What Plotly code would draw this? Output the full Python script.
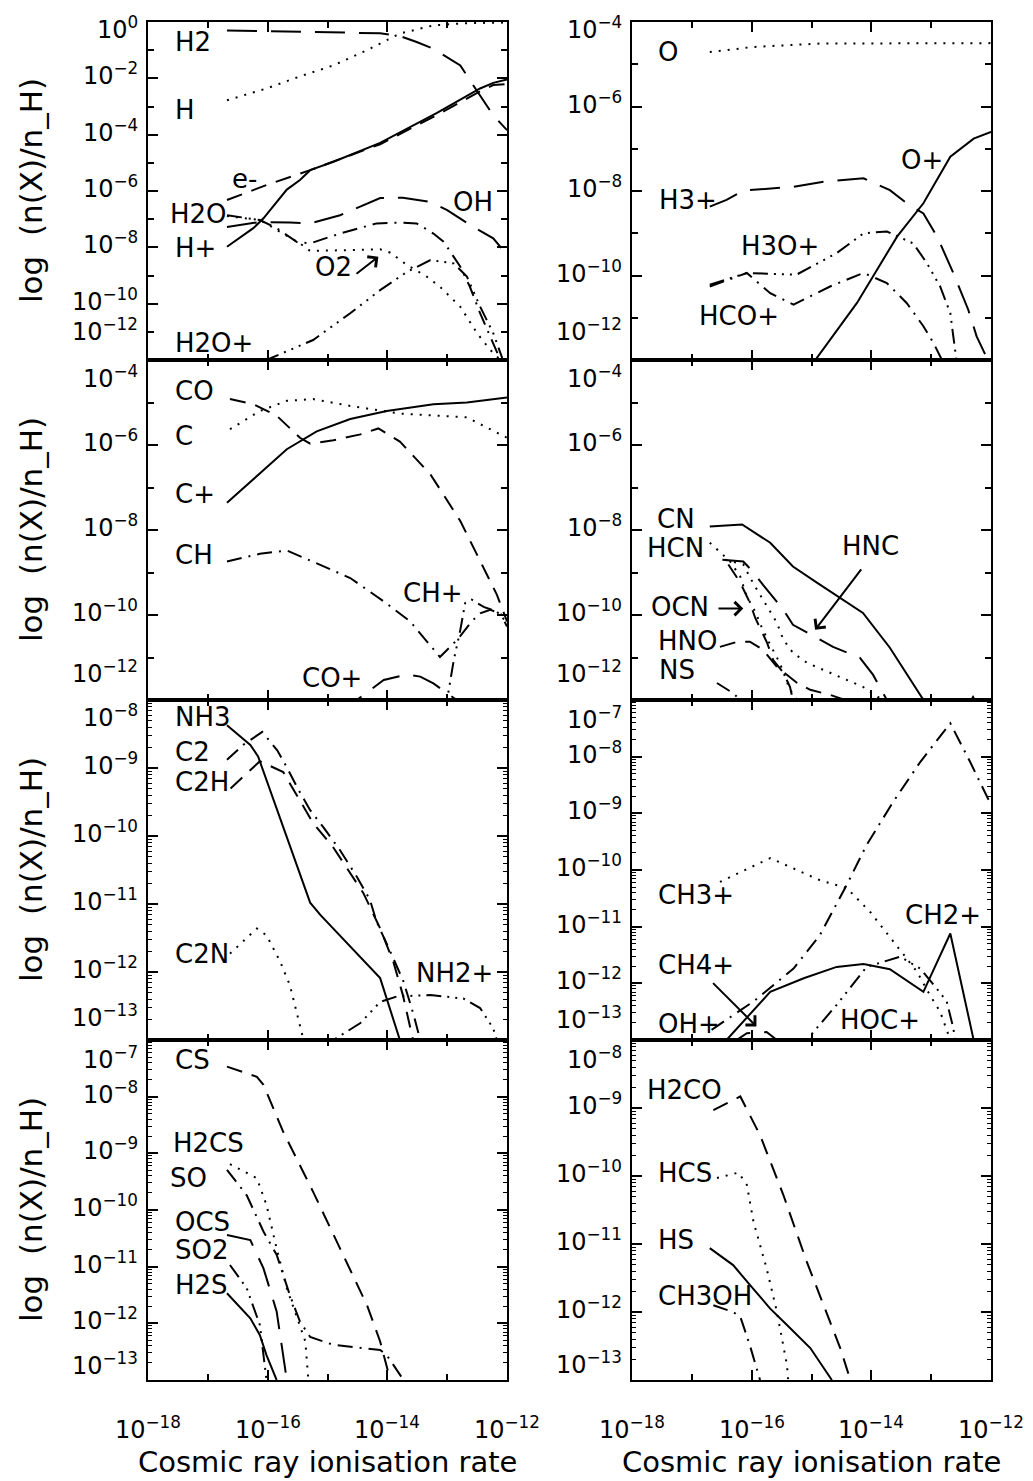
import numpy as np
import plotly.graph_objects as go

FONT = "DejaVu Sans"
W, H = 1033, 1481

# ---------------------------------------------------------------------------
# Data: log10(cosmic ray ionisation rate) and log10(n(X)/n_H)
# ---------------------------------------------------------------------------
# Panel 1 (row 1, left)
H2_lx = [-16.68, -15.46, -14.12, -13.79, -13.51, -13.23, -12.78, -12.62, -12.45, -12.23, -12.00]
H2_ly = [-0.30, -0.34, -0.40, -0.50, -0.71, -0.95, -1.54, -2.07, -2.60, -3.31, -3.84]
H_lx = [-16.68, -16.02, -15.46, -14.90, -14.34, -13.79, -13.23, -12.67, -12.00]
H_ly = [-2.78, -2.36, -1.93, -1.54, -1.00, -0.41, -0.12, -0.04, -0.02]
e_lx = [-16.68, -16.02, -15.29, -14.12, -13.17, -12.45, -12.23, -12.00]
e_ly = [-6.32, -5.79, -5.26, -4.34, -3.30, -2.46, -2.24, -2.20]
Hp_lx = [-16.68, -16.24, -16.07, -15.68, -15.46, -15.29, -14.90, -14.12, -13.17, -12.45, -12.23, -12.00]
Hp_ly = [-7.98, -7.32, -6.97, -5.95, -5.61, -5.26, -4.96, -4.29, -3.23, -2.36, -2.16, -2.04]
OH_lx = [-16.68, -16.13, -15.63, -15.29, -14.79, -14.12, -13.74, -13.28, -13.00, -12.57, -12.23, -12.00]
OH_ly = [-7.28, -7.10, -7.12, -7.15, -6.86, -6.25, -6.24, -6.39, -6.68, -7.27, -7.68, -8.27]
H2O_lx = [-16.68, -16.13, -15.85, -15.51, -15.29, -14.79, -14.18, -13.79, -13.51, -13.23, -13.06,
          -12.95, -12.78, -12.62, -12.45, -12.28, -12.11, -12.05]
H2O_ly = [-6.86, -7.03, -7.32, -7.81, -7.86, -7.51, -7.15, -7.12, -7.15, -7.51, -7.80,
          -8.16, -8.69, -9.40, -10.34, -11.17, -12.00, -12.40]
O2_lx = [-16.68, -16.13, -15.46, -15.29, -14.12, -13.95, -13.67, -13.34, -13.12, -12.78, -12.50,
         -12.28, -12.11, -12.05]
O2_ly = [-6.89, -7.03, -7.86, -8.13, -8.07, -8.19, -8.63, -9.04, -9.40, -10.11, -11.05,
         -11.64, -12.00, -12.40]
H2Op_lx = [-16.68, -16.02, -15.24, -14.62, -14.12, -13.67, -13.28, -12.89, -12.67, -12.45, -12.23, -12.06, -12.00]
H2Op_ly = [-12.90, -12.00, -11.29, -10.34, -9.52, -8.87, -8.45, -8.57, -9.04, -10.10, -11.05, -12.00, -12.40]

# Panel 2 (row 1, right)
O_lx = [-16.70, -15.97, -14.86, -12.00]
O_ly = [-4.71, -4.59, -4.51, -4.50]
H3p_lx = [-16.70, -16.42, -16.14, -15.30, -14.80, -14.13, -13.69, -13.41, -13.13, -12.90, -12.63,
          -12.38, -12.24, -12.07, -12.00]
H3p_ly = [-8.37, -8.21, -7.99, -7.90, -7.78, -7.70, -7.98, -8.29, -8.53, -9.08, -9.94,
          -10.81, -11.44, -11.95, -12.05]
Op_lx = [-15.40, -14.94, -14.24, -13.57, -13.13, -12.68, -12.29, -12.00]
Op_ly = [-12.90, -12.00, -10.65, -9.08, -8.29, -7.19, -6.76, -6.60]
H3Op_lx = [-16.70, -16.08, -15.25, -14.58, -14.13, -13.74, -13.30, -13.07, -12.85, -12.68, -12.63, -12.57, -12.55]
H3Op_ly = [-10.22, -9.94, -9.98, -9.47, -9.00, -8.96, -9.24, -9.71, -10.26, -10.89, -11.44, -12.00, -12.30]
HCOp_lx = [-16.70, -16.08, -15.69, -15.30, -14.69, -14.13, -13.74, -13.41, -13.13, -12.96, -12.82, -12.75]
HCOp_ly = [-10.26, -9.94, -10.42, -10.69, -10.26, -9.94, -10.18, -10.65, -11.20, -11.60, -12.00, -12.30]

# Panel 3 (row 2, left)
CO_lx = [-16.63, -16.24, -15.85, -15.46, -15.29, -14.90, -14.45, -14.15, -13.79, -13.28, -12.78,
         -12.34, -12.17, -12.00]
CO_ly = [-4.92, -5.04, -5.31, -5.83, -5.97, -5.89, -5.75, -5.61, -5.92, -6.69, -7.79,
         -9.05, -9.52, -10.15]
C_lx = [-16.63, -16.13, -15.68, -15.24, -14.62, -13.79, -12.67, -12.00]
C_ly = [-5.63, -5.20, -4.96, -4.92, -5.08, -5.26, -5.35, -5.83]
Cp_lx = [-16.68, -15.68, -15.18, -14.62, -14.01, -13.23, -12.67, -12.00]
Cp_ly = [-7.36, -6.10, -5.68, -5.39, -5.20, -5.04, -5.00, -4.88]
CH_lx = [-16.68, -16.13, -15.68, -15.18, -14.62, -14.06, -13.62, -13.12, -12.81, -12.59, -12.45,
         -12.28, -12.11, -12.00]
CH_ly = [-8.74, -8.56, -8.48, -8.78, -9.13, -9.68, -10.15, -10.99, -10.55, -10.15, -9.96,
         -9.88, -9.96, -10.27]
CHp_lx = [-13.06, -13.00, -12.89, -12.78, -12.70, -12.59, -12.39, -12.17, -12.00]
CHp_ly = [-12.50, -12.00, -11.06, -10.35, -9.72, -9.64, -9.81, -9.92, -10.18]
COp_lx = [-14.80, -14.51, -14.06, -13.67, -13.45, -13.23, -12.84, -12.60]
COp_ly = [-12.40, -12.00, -11.53, -11.40, -11.45, -11.61, -12.00, -12.30]

# Panel 4 (row 2, right)
CN_lx = [-16.70, -16.16, -15.69, -15.31, -14.91, -14.14, -13.69, -13.13, -12.90]
CN_ly = [-7.92, -7.87, -8.30, -8.86, -9.24, -9.95, -10.77, -12.00, -12.50]
HCN_lx = [-16.70, -16.36, -16.19, -16.08, -15.94, -15.83, -15.69, -15.53, -15.36, -15.24]
HCN_ly = [-8.30, -8.74, -9.10, -9.57, -9.92, -10.30, -10.70, -11.13, -11.76, -12.00]
DOT2_lx = [-16.44, -16.14, -15.98, -15.81, -15.69, -15.58, -15.47, -15.31, -15.07, -14.81, -14.47,
           -14.14, -13.89, -13.77]
DOT2_ly = [-8.70, -8.81, -9.24, -9.64, -9.95, -10.18, -10.58, -10.89, -11.13, -11.29, -11.48,
           -11.69, -11.93, -12.00]
HNC_lx = [-16.49, -16.14, -15.98, -15.81, -15.47, -15.31, -14.91, -14.64, -14.19, -13.97, -13.74]
HNC_ly = [-8.70, -8.74, -8.98, -9.29, -9.88, -10.23, -10.54, -10.75, -11.01, -11.41, -12.00]
OCN_lx = [-16.39, -16.19, -16.03, -15.94, -15.74, -15.64, -15.47, -15.36, -15.31]
OCN_ly = [-8.81, -9.24, -9.71, -10.07, -10.66, -11.06, -11.36, -11.69, -12.00]
HNO_lx = [-16.53, -16.24, -16.03, -15.81, -15.58, -15.24, -15.02, -14.69, -14.44]
HNO_ly = [-10.75, -10.63, -10.63, -10.82, -11.22, -11.60, -11.76, -11.88, -12.00]
NS_lx = [-16.58, -16.31, -16.19, -16.00, -12.50, -12.30, -12.10]
NS_ly = [-11.60, -11.84, -12.00, -12.40, -12.40, -11.93, -12.40]

# Panel 5 (row 3, left)
NH3_lx = [-16.68, -16.29, -16.16, -15.29, -15.12, -14.12, -13.79]
NH3_ly = [-8.37, -8.66, -8.83, -10.98, -11.16, -12.09, -13.00]
C2_lx = [-16.68, -16.41, -16.09, -15.84, -15.68, -15.51, -15.29, -15.07, -14.79, -14.51, -14.29,
         -14.18, -13.95, -13.73, -13.56, -13.45]
C2_ly = [-8.88, -8.66, -8.47, -8.74, -8.99, -9.28, -9.62, -9.87, -10.21, -10.60, -10.94,
         -11.26, -11.70, -12.14, -12.63, -13.00]
C2H_lx = [-16.62, -16.13, -15.74, -15.46, -15.24, -14.91, -14.62, -14.40, -14.12, -13.90, -13.74, -13.57]
C2H_ly = [-9.30, -8.90, -9.06, -9.47, -9.81, -10.16, -10.54, -10.84, -11.36, -11.85, -12.34, -13.00]
C2N_lx = [-16.63, -16.18, -16.02, -15.79, -15.63, -15.46, -15.40]
C2N_ly = [-11.73, -11.36, -11.46, -11.85, -12.19, -12.78, -13.00]
NH2p_lx = [-15.20, -14.90, -14.45, -14.12, -13.84, -13.28, -12.73, -12.45, -12.23, -12.17]
NH2p_ly = [-13.30, -13.00, -12.75, -12.44, -12.36, -12.34, -12.39, -12.53, -12.83, -13.00]

# Panel 6 (row 3, right)
OHp_lx = [-16.67, -15.97, -15.30, -14.86, -14.41, -14.08, -13.63, -13.18, -12.68, -12.35, -12.00]
OHp_ly = [-12.82, -12.32, -11.74, -11.15, -10.26, -9.56, -8.79, -8.09, -7.41, -8.09, -8.85]
CH3p_lx = [-16.53, -15.69, -14.86, -14.41, -14.02, -13.63, -13.24, -13.02, -12.85, -12.68]
CH3p_ly = [-10.21, -9.79, -10.18, -10.32, -10.74, -11.26, -11.79, -12.21, -12.50, -13.00]
CH2p_lx = [-16.70, -16.42, -15.69, -15.13, -14.58, -14.13, -13.69, -13.13, -12.68, -12.29]
CH2p_ly = [-13.40, -13.00, -12.15, -11.91, -11.71, -11.66, -11.75, -12.15, -11.12, -13.00]
HOCp_lx = [-15.30, -15.08, -14.58, -14.08, -13.52, -13.18, -12.91, -12.74, -12.63, -12.60]
HOCp_ly = [-13.30, -13.00, -12.38, -11.71, -11.53, -11.74, -12.09, -12.32, -12.79, -13.00]
CH4p_lx = [-16.40, -16.25, -16.08, -15.75, -15.58, -15.45]
CH4p_ly = [-13.20, -13.00, -12.88, -12.86, -13.00, -13.20]

# Panel 7 (row 4, left)
CS_lx = [-16.68, -16.18, -16.07, -15.74, -15.24, -14.79, -14.34, -14.12, -13.95]
CS_ly = [-7.47, -7.65, -7.79, -8.62, -9.68, -10.68, -11.68, -12.32, -13.00]
H2CS_lx = [-16.63, -16.18, -16.02, -15.85, -15.68, -15.51, -15.37, -15.32]
H2CS_ly = [-9.19, -9.44, -9.91, -10.68, -11.38, -11.91, -12.32, -13.00]
SO_lx = [-16.68, -16.35, -16.07, -15.85, -15.63, -15.46, -15.29, -14.90, -14.12, -14.01, -13.73]
SO_ly = [-9.29, -9.74, -10.38, -10.79, -11.50, -11.97, -12.24, -12.38, -12.47, -12.56, -13.00]
OCS_lx = [-16.68, -16.29, -16.07, -15.85, -15.68]
OCS_ly = [-10.44, -10.53, -11.03, -11.79, -13.00]
SO2_lx = [-16.63, -16.35, -16.13, -16.02]
SO2_ly = [-10.97, -11.38, -12.03, -13.00]
H2S_lx = [-16.68, -16.29, -16.13, -16.02, -15.85]
H2S_ly = [-11.47, -11.91, -12.21, -12.56, -13.00]

# Panel 8 (row 4, right)
H2CO_lx = [-16.64, -16.42, -16.19, -15.86, -15.47, -15.08, -14.74, -14.52, -14.35]
H2CO_ly = [-9.03, -8.93, -8.83, -9.40, -10.28, -11.26, -12.04, -12.53, -13.00]
HCS_lx = [-16.58, -16.22, -16.08, -15.97, -15.75, -15.58, -15.41, -15.39]
HCS_ly = [-10.03, -9.95, -10.13, -10.67, -11.36, -11.99, -12.78, -13.00]
HS_lx = [-16.70, -16.31, -16.03, -15.69, -15.41, -15.02, -14.66]
HS_ly = [-11.06, -11.31, -11.60, -11.95, -12.19, -12.53, -13.00]
CH3OH_lx = [-16.64, -16.31, -16.19, -16.03, -15.86]
CH3OH_ly = [-11.90, -12.00, -12.07, -12.49, -13.00]

# Axes
X_RANGE = [-18, -12]
X_MAJOR = [-18, -16, -14, -12]
X_MINOR = [-17, -15, -13]
X_TICKTEXT = ["10<sup>\u221218</sup>", "10<sup>\u221216</sup>", "10<sup>\u221214</sup>", "10<sup>\u221212</sup>"]
Y_RANGES = [[-12, 0], [-12, -4], [-12, -4], [-12, -4], [-13, -8], [-13, -7], [-13, -7], [-13, -8]]
Y_LABELED = [[0, -2, -4, -6, -8, -10, -12], [-4, -6, -8, -10, -12], [-4, -6, -8, -10, -12],
             [-4, -6, -8, -10, -12], [-8, -9, -10, -11, -12, -13], [-7, -8, -9, -10, -11, -12, -13],
             [-7, -8, -9, -10, -11, -12, -13], [-8, -9, -10, -11, -12, -13]]
# shift (px) of the top / bottom tick label
Y_EDGE_SHIFT = [(-10, 26), (-10, 26), (-21, 24), (-21, 24), (-20, 20), (-22, 18), (-22, 12), (-22, 13)]

# Series: (panel, lx, ly, style)
SERIES = [
    (0, H2_lx, H2_ly, "longdash"), (0, H_lx, H_ly, "dot"), (0, e_lx, e_ly, "dash"),
    (0, Hp_lx, Hp_ly, "solid"), (0, OH_lx, OH_ly, "longdash"), (0, H2O_lx, H2O_ly, "dashdot"),
    (0, O2_lx, O2_ly, "dot"), (0, H2Op_lx, H2Op_ly, "dashdot3"),
    (1, O_lx, O_ly, "dot"), (1, H3p_lx, H3p_ly, "longdash"), (1, Op_lx, Op_ly, "solid"),
    (1, H3Op_lx, H3Op_ly, "dashdot3"), (1, HCOp_lx, HCOp_ly, "dashdot"),
    (2, CO_lx, CO_ly, "dash"), (2, C_lx, C_ly, "dot"), (2, Cp_lx, Cp_ly, "solid"),
    (2, CH_lx, CH_ly, "dashdot"), (2, CHp_lx, CHp_ly, "dashdot3"), (2, COp_lx, COp_ly, "longdash"),
    (3, CN_lx, CN_ly, "solid"), (3, HCN_lx, HCN_ly, "dot"), (3, DOT2_lx, DOT2_ly, "dot"),
    (3, HNC_lx, HNC_ly, "longdash"), (3, OCN_lx, OCN_ly, "dash"), (3, HNO_lx, HNO_ly, "dash"),
    (3, NS_lx, NS_ly, "dashdot"),
    (4, NH3_lx, NH3_ly, "solid"), (4, C2_lx, C2_ly, "dashdot"), (4, C2H_lx, C2H_ly, "dash"),
    (4, C2N_lx, C2N_ly, "dot"), (4, NH2p_lx, NH2p_ly, "dashdot3"),
    (5, OHp_lx, OHp_ly, "dashdot"), (5, CH3p_lx, CH3p_ly, "dot"), (5, CH2p_lx, CH2p_ly, "solid"),
    (5, HOCp_lx, HOCp_ly, "dashdot3"), (5, CH4p_lx, CH4p_ly, "longdash"),
    (6, CS_lx, CS_ly, "dash"), (6, H2CS_lx, H2CS_ly, "dot"), (6, SO_lx, SO_ly, "dashdot"),
    (6, OCS_lx, OCS_ly, "longdash"), (6, SO2_lx, SO2_ly, "dashdot3"), (6, H2S_lx, H2S_ly, "solid"),
    (7, H2CO_lx, H2CO_ly, "dash"), (7, HCS_lx, HCS_ly, "dot"), (7, HS_lx, HS_ly, "solid"),
    (7, CH3OH_lx, CH3OH_ly, "dashdot"),
]

# Species labels: (panel, text, lx, ly, xanchor)
LABELS = [
    (0, "H2", -17.59, -0.71, "left"), (0, "H", -17.59, -3.13, "left"), (0, "e-", -16.38, -5.56, "center"),
    (0, "H2O", -17.66, -6.80, "left"), (0, "H+", -17.59, -8.04, "left"), (0, "OH", -12.56, -6.38, "center"),
    (0, "O2", -14.90, -8.69, "center"), (0, "H2O+", -17.58, -11.41, "left"),
    (1, "O", -17.60, -4.71, "left"), (1, "H3+", -17.59, -8.21, "left"), (1, "O+", -13.16, -7.27, "center"),
    (1, "H3O+", -15.53, -9.31, "center"), (1, "HCO+", -16.22, -10.97, "center"),
    (2, "CO", -17.59, -4.72, "left"), (2, "C", -17.59, -5.79, "left"), (2, "C+", -17.59, -7.16, "left"),
    (2, "CH", -17.59, -8.58, "left"), (2, "CH+", -13.23, -9.48, "center"), (2, "CO+", -14.92, -11.49, "center"),
    (3, "CN", -17.62, -7.75, "left"), (3, "HCN", -17.78, -8.42, "left"), (3, "HNC", -14.02, -8.38, "center"),
    (3, "OCN", -17.71, -9.80, "left"), (3, "HNO", -17.60, -10.62, "left"), (3, "NS", -17.59, -11.29, "left"),
    (4, "NH3", -17.59, -8.25, "left"), (4, "C2", -17.59, -8.76, "left"), (4, "C2H", -17.59, -9.20, "left"),
    (4, "C2N", -17.59, -11.73, "left"), (4, "NH2+", -12.87, -12.02, "center"),
    (5, "CH3+", -17.60, -10.44, "left"), (5, "CH2+", -12.81, -10.79, "center"),
    (5, "CH4+", -17.60, -11.68, "left"), (5, "OH+", -17.60, -12.71, "left"), (5, "HOC+", -13.85, -12.65, "center"),
    (6, "CS", -17.59, -7.35, "left"), (6, "H2CS", -17.61, -8.82, "left"), (6, "SO", -17.66, -9.44, "left"),
    (6, "OCS", -17.59, -10.21, "left"), (6, "SO2", -17.59, -10.71, "left"), (6, "H2S", -17.59, -11.32, "left"),
    (7, "H2CO", -17.78, -8.74, "left"), (7, "HCS", -17.60, -9.96, "left"), (7, "HS", -17.60, -10.94, "left"),
    (7, "CH3OH", -17.60, -11.77, "left"),
]

# Arrows: (panel, tail_lx, tail_ly, head_lx, head_ly)
ARROWS = [
    (0, -14.54, -8.98, -14.15, -8.33),
    (3, -16.58, -9.85, -16.14, -9.85),
    (3, -14.15, -8.89, -14.94, -10.35),
    (5, -16.67, -11.97, -15.92, -12.76),
]

DASH = {
    "solid": "solid",
    "dot": "2px,7px",
    "dash": "16px,10px",
    "longdash": "30px,14px",
    "dashdot": "15px,7px,2px,7px",
    "dashdot3": "15px,6px,2px,6px,2px,6px,2px,6px",
}

# ---------------------------------------------------------------------------
X_DOM = [[148 / W, 507 / W], [632 / W, 991 / W]]
ROW_PX = [(22, 360), (360, 700), (700, 1040), (1040, 1380)]


def ax_id(i):
    return "" if i == 0 else str(i + 1)


fig = go.Figure()
layout = dict(width=W, height=H, margin=dict(l=0, r=0, t=0, b=0),
              paper_bgcolor="white", plot_bgcolor="white", showlegend=False,
              font=dict(family=FONT, color="black", size=24))
annotations = []

for i in range(8):
    row, col = divmod(i, 2)
    top, bot = ROW_PX[row]
    sid = ax_id(i)
    lo, hi = Y_RANGES[i]
    if hi - lo > 6:
        ymajor = Y_LABELED[i]
        yminor = [v for v in range(lo, hi + 1) if v not in ymajor]
    else:
        ymajor = list(range(lo, hi + 1))
        yminor = [d + np.log10(k) for d in range(lo, hi) for k in range(2, 10)]
    common = dict(showline=True, linewidth=2, linecolor="black", mirror="allticks",
                  ticks="inside", tickwidth=2, tickcolor="black", showgrid=False,
                  zeroline=False, showticklabels=False, type="log")
    layout["xaxis" + sid] = dict(
        common, domain=X_DOM[col], anchor="y" + sid, range=X_RANGE,
        tickmode="array", tickvals=[10.0 ** v for v in X_MAJOR], ticklen=10,
        minor=dict(tickmode="array", tickvals=[10.0 ** v for v in X_MINOR], ticklen=6,
                   tickwidth=2, tickcolor="black", ticks="inside", showgrid=False))
    layout["yaxis" + sid] = dict(
        common, domain=[1 - bot / H, 1 - top / H], anchor="x" + sid, range=[lo, hi],
        tickmode="array", tickvals=[10.0 ** v for v in ymajor], ticklen=10,
        minor=dict(tickmode="array", tickvals=[10.0 ** v for v in yminor],
                   ticklen=6 if hi - lo > 6 else 4, tickwidth=2 if hi - lo > 6 else 1,
                   tickcolor="black", ticks="inside", showgrid=False))

    # y tick labels
    for v in Y_LABELED[i]:
        shift = 4
        if v == hi:
            shift += Y_EDGE_SHIFT[i][0]
        elif v == lo:
            shift += Y_EDGE_SHIFT[i][1]
        annotations.append(dict(
            xref="x" + sid + " domain", x=0, yref="y" + sid, y=v, xanchor="right", yanchor="middle",
            xshift=-8, yshift=shift, showarrow=False,
            text="10<sup>\u2212%d</sup>" % (-v) if v < 0 else "10<sup>0</sup>",
            font=dict(family=FONT, size=24, color="black")))

    # y title on left column
    if col == 0:
        annotations.append(dict(
            xref="x" + sid + " domain", x=0, yref="y" + sid + " domain", y=0.5,
            xshift=-117, textangle=-90, showarrow=False, xanchor="center", yanchor="middle",
            text="log  (n(X)/n_H)", font=dict(family=FONT, size=31, color="black")))

    # x tick labels and title on bottom row
    if row == 3:
        for v, t in zip(X_MAJOR, X_TICKTEXT):
            annotations.append(dict(
                xref="x" + sid, x=v, yref="y" + sid + " domain", y=0, xanchor="center",
                yanchor="top", yshift=-30, showarrow=False, text=t,
                font=dict(family=FONT, size=24, color="black")))
        annotations.append(dict(
            xref="x" + sid + " domain", x=0.5, yref="y" + sid + " domain", y=0,
            xanchor="center", yanchor="middle", yshift=-82, showarrow=False,
            text="Cosmic ray ionisation rate", font=dict(family=FONT, size=29, color="black")))

for p, lx, ly, style in SERIES:
    sid = ax_id(p)
    fig.add_trace(go.Scatter(
        x=np.power(10.0, lx), y=np.power(10.0, ly), mode="lines",
        line=dict(color="black", width=2, dash=DASH[style]),
        xaxis="x" + sid, yaxis="y" + sid, hoverinfo="skip"))

for p, text, lx, ly, anchor in LABELS:
    sid = ax_id(p)
    annotations.append(dict(
        xref="x" + sid, yref="y" + sid, x=lx, y=ly, text=text, showarrow=False,
        xanchor=anchor, yanchor="middle", font=dict(family=FONT, size=26, color="black")))

for p, tx, ty, hx, hy in ARROWS:
    sid = ax_id(p)
    annotations.append(dict(
        xref="x" + sid, yref="y" + sid, x=hx, y=hy, axref="x" + sid, ayref="y" + sid,
        ax=tx, ay=ty, text="", showarrow=True, arrowhead=4, arrowsize=1.3, arrowwidth=2,
        arrowcolor="black", standoff=0, startstandoff=0))

layout["annotations"] = annotations
fig.update_layout(**layout)
fig.write_html("out.html", config={"displayModeBar": False, "staticPlot": True},
               post_script="document.body.style.margin='0px';document.body.style.overflow='hidden';")
